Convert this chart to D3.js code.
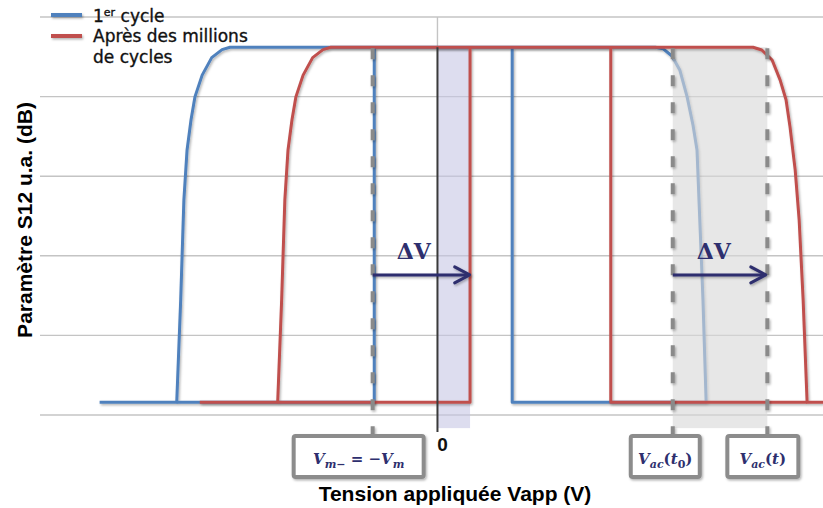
<!DOCTYPE html>
<html><head><meta charset="utf-8">
<script src="https://cdn.jsdelivr.net/npm/d3@7"></script>
<style>body{margin:0;background:#fff}</style>
</head><body>
<svg id="c" width="823" height="508"></svg>
<script>
// ---- data ----
const gridLevels = [0, 1, 2, 3, 4, 5];
const lowLevel = 0.16, highLevel = 4.62;
const cycle1Rise = [[-32.8,0.16],[-32.3,1.45],[-31.9,2.7],[-31.5,3.33],[-31.0,3.71],[-30.5,4.0],[-29.6,4.27],[-28.4,4.49],[-27.1,4.59],[-26.1,4.62]];
const cycle1Fall = [[27.4,4.62],[28.4,4.6],[29.5,4.51],[30.5,4.33],[31.4,4.0],[32.15,3.64],[32.65,3.33],[33.0,2.45],[33.4,1.45],[33.8,0.16]];
const agedRise = [[-20.1,0.16],[-19.6,1.45],[-19.2,2.7],[-18.8,3.33],[-18.3,3.71],[-17.8,4.0],[-16.9,4.27],[-15.7,4.49],[-14.4,4.59],[-13.4,4.62]];
const agedFall = [[39.7,4.62],[40.8,4.585],[42.1,4.46],[43.1,4.21],[43.85,3.96],[44.35,3.62],[45.0,3.08],[45.5,2.45],[46.0,1.45],[46.5,0.16]];
const cycle1Switch = [-7.95, 9.4];
const agedSwitch = [4.1, 21.8];
const cycle1Start = -42.5, agedStart = -29.9, agedEnd = 48.5;
const markerV = [-8.15, 29.6, 41.5];
const shiftBands = [[0, 4.1], [29.6, 41.5]];
const arrowSpans = [[-8.15, 4.05], [29.6, 41.3]];
const arrowLevel = 1.76;
const seriesNames = ["1", "Après des millions", "de cycles"];
const markerLabels = [
  [["V",0,1],["m−",1,1],[" = −",0,0],["V",0,1],["m",1,1]],
  [["V",0,1],["ac",1,1],["(",0,0],["t",0,1],["0",1,0],[")",0,0]],
  [["V",0,1],["ac",1,1],["(",0,0],["t",0,1],[")",0,0]]
];
const xTitle = "Tension appliquée Vapp (V)";
const yTitle = "Paramètre S12 u.a. (dB)";
const zeroLabel = "0";

// ---- drawing ----
const BLUE = "#4f81bd", RED = "#c0504d", NAVY = "#2e2f6e";
const svg = d3.select("#c");
const x = d3.scaleLinear().domain([-50, 48.5]).range([40, 823]);
const y = d3.scaleLinear().domain([0, 5]).range([415, 17]);
const line = d3.line().x(d => x(d[0])).y(d => y(d[1]));

const defs = svg.append("defs");
const f = defs.append("filter").attr("id","sh").attr("filterUnits","userSpaceOnUse")
  .attr("x",0).attr("y",0).attr("width",823).attr("height",508);
f.append("feDropShadow").attr("dx",1.2).attr("dy",1.5).attr("stdDeviation",1.3).attr("flood-color","#000").attr("flood-opacity",0.3);

// gridlines
svg.append("g").selectAll("line").data(gridLevels).join("line")
  .attr("x1", 40).attr("x2", 823)
  .attr("y1", d => y(d)).attr("y2", d => y(d))
  .attr("stroke", "#c4c4c4").attr("stroke-width", 1.4);

// lavender band
svg.append("rect")
  .attr("x", x(shiftBands[0][0])).attr("width", x(shiftBands[0][1]) - x(shiftBands[0][0]))
  .attr("y", y(highLevel)).attr("height", y(-0.165) - y(highLevel))
  .attr("fill", "#c6c6e4").attr("opacity", 0.6);

// zero axis
svg.append("line").attr("x1", x(0)).attr("x2", x(0)).attr("y1", y(5)).attr("y2", y(highLevel))
  .attr("stroke", "#c4c4c4").attr("stroke-width", 1.4);

// blue series (first cycle)
const blueSegs = [
  [[cycle1Start, lowLevel], ...cycle1Rise, ...cycle1Fall, [cycle1Switch[1], lowLevel], [cycle1Switch[1], highLevel]],
  [[cycle1Rise[0][0], lowLevel], [cycle1Switch[0], lowLevel], [cycle1Switch[0], highLevel]]
];
svg.append("g").attr("filter","url(#sh)").selectAll("path").data(blueSegs).join("path")
  .attr("d", line).attr("fill","none").attr("stroke", BLUE).attr("stroke-width", 3).attr("stroke-linejoin","round");

// grey band (over blue)
svg.append("rect")
  .attr("x", x(shiftBands[1][0])).attr("width", x(shiftBands[1][1]) - x(shiftBands[1][0]))
  .attr("y", y(highLevel)).attr("height", y(-0.165) - y(highLevel))
  .attr("fill", "#d9d9d9").attr("opacity", 0.62);

// red series (after millions of cycles)
const redSegs = [
  [[agedStart, lowLevel], ...agedRise, ...agedFall, [agedEnd, lowLevel]],
  [[agedRise[0][0], lowLevel], [agedSwitch[0], lowLevel], [agedSwitch[0], highLevel]],
  [[agedSwitch[1], highLevel], [agedSwitch[1], lowLevel], [agedFall[agedFall.length-1][0], lowLevel]]
];
svg.append("g").attr("filter","url(#sh)").selectAll("path").data(redSegs).join("path")
  .attr("d", line).attr("fill","none").attr("stroke", RED).attr("stroke-width", 3).attr("stroke-linejoin","round");

// zero line (dark)
svg.append("line").attr("x1", x(0)).attr("x2", x(0)).attr("y1", y(highLevel)).attr("y2", y(-0.215))
  .attr("stroke", "#3a3a3a").attr("stroke-width", 2);

// dashed markers
svg.append("g").attr("filter","url(#sh)").selectAll("line").data(markerV).join("line")
  .attr("x1", d => x(d)).attr("x2", d => x(d))
  .attr("y1", y(highLevel) + 1).attr("y2", 436)
  .attr("stroke", "#8a8a8a").attr("stroke-width", 4).attr("stroke-dasharray", "11,16");

// arrows
const ag = svg.append("g").attr("filter","url(#sh)");
arrowSpans.forEach(s => {
  const x0 = x(s[0]), x1 = x(s[1]), yy = y(arrowLevel);
  ag.append("line").attr("x1", x0).attr("x2", x1 - 1).attr("y1", yy).attr("y2", yy)
    .attr("stroke", NAVY).attr("stroke-width", 3);
  ag.append("path").attr("d", `M${x1-15},${yy-8}L${x1},${yy}L${x1-15},${yy+8}`)
    .attr("fill","none").attr("stroke", NAVY).attr("stroke-width", 3).attr("stroke-linecap","round").attr("stroke-linejoin","round");
  svg.append("text").attr("x", x0 + 24).attr("y", yy - 16)
    .attr("font-family", "'DejaVu Serif', serif").attr("font-weight", "bold").attr("font-size", 22)
    .attr("fill", NAVY).text("ΔV");
});

// marker label boxes
const boxGeom = [[-79, 130], [-42, 69], [-40, 71]];
markerV.forEach((v, i) => {
  const bx = x(v) + boxGeom[i][0], bw = boxGeom[i][1];
  svg.append("rect").attr("x", bx).attr("y", 436).attr("width", bw).attr("height", 41).attr("rx", 2)
    .attr("fill", "#fff").attr("stroke", "#8c8c8c").attr("stroke-width", 4).attr("filter","url(#sh)");
  const t = svg.append("text").attr("x", bx + bw / 2).attr("y", 464).attr("text-anchor", "middle")
    .attr("font-family", "'DejaVu Serif', serif").attr("font-weight", "bold").attr("font-size", 15).attr("fill", NAVY);
  let sub = false;
  markerLabels[i].forEach(p => {
    const ts = t.append("tspan").text(p[0]).attr("font-style", p[2] ? "italic" : "normal");
    if (p[1] && !sub) { ts.attr("dy", 4).attr("font-size", 11); sub = true; }
    else if (p[1]) { ts.attr("font-size", 11); }
    else if (!p[1] && sub) { ts.attr("dy", -4); sub = false; }
  });
});

// zero label
svg.append("text").attr("x", x(0) + 5).attr("y", 451).attr("text-anchor","middle")
  .attr("font-family","'Liberation Sans', Arial, sans-serif").attr("font-weight","bold").attr("font-size",19)
  .attr("fill","#111").text(zeroLabel);

// axis titles
svg.append("text").attr("x", 455).attr("y", 501).attr("text-anchor","middle")
  .attr("font-family","'Liberation Sans', Arial, sans-serif").attr("font-weight","bold").attr("font-size",21)
  .attr("fill","#000").text(xTitle);
svg.append("text").attr("transform","translate(32,220) rotate(-90)").attr("text-anchor","middle")
  .attr("font-family","'Liberation Sans', Arial, sans-serif").attr("font-weight","bold").attr("font-size",21)
  .attr("fill","#000").text(yTitle);

// legend
const lg = svg.append("g");
lg.append("line").attr("x1",51).attr("x2",82).attr("y1",15).attr("y2",15).attr("stroke",BLUE).attr("stroke-width",4).attr("filter","url(#sh)");
lg.append("line").attr("x1",51).attr("x2",82).attr("y1",36).attr("y2",36).attr("stroke",RED).attr("stroke-width",4).attr("filter","url(#sh)");
const legFont = t => t.attr("font-family","'DejaVu Sans', sans-serif").attr("font-size",17).attr("fill","#111")
  .attr("stroke","#111").attr("stroke-width",0.35);
const lt = legFont(lg.append("text").attr("x",93).attr("y",22));
lt.append("tspan").text(seriesNames[0]);
lt.append("tspan").text("er").attr("font-size",11).attr("dy",-6);
lt.append("tspan").text(" cycle").attr("dy",6);
legFont(lg.append("text").attr("x",93).attr("y",42)).text(seriesNames[1]);
legFont(lg.append("text").attr("x",93).attr("y",63)).text(seriesNames[2]);
</script>
</body></html>
